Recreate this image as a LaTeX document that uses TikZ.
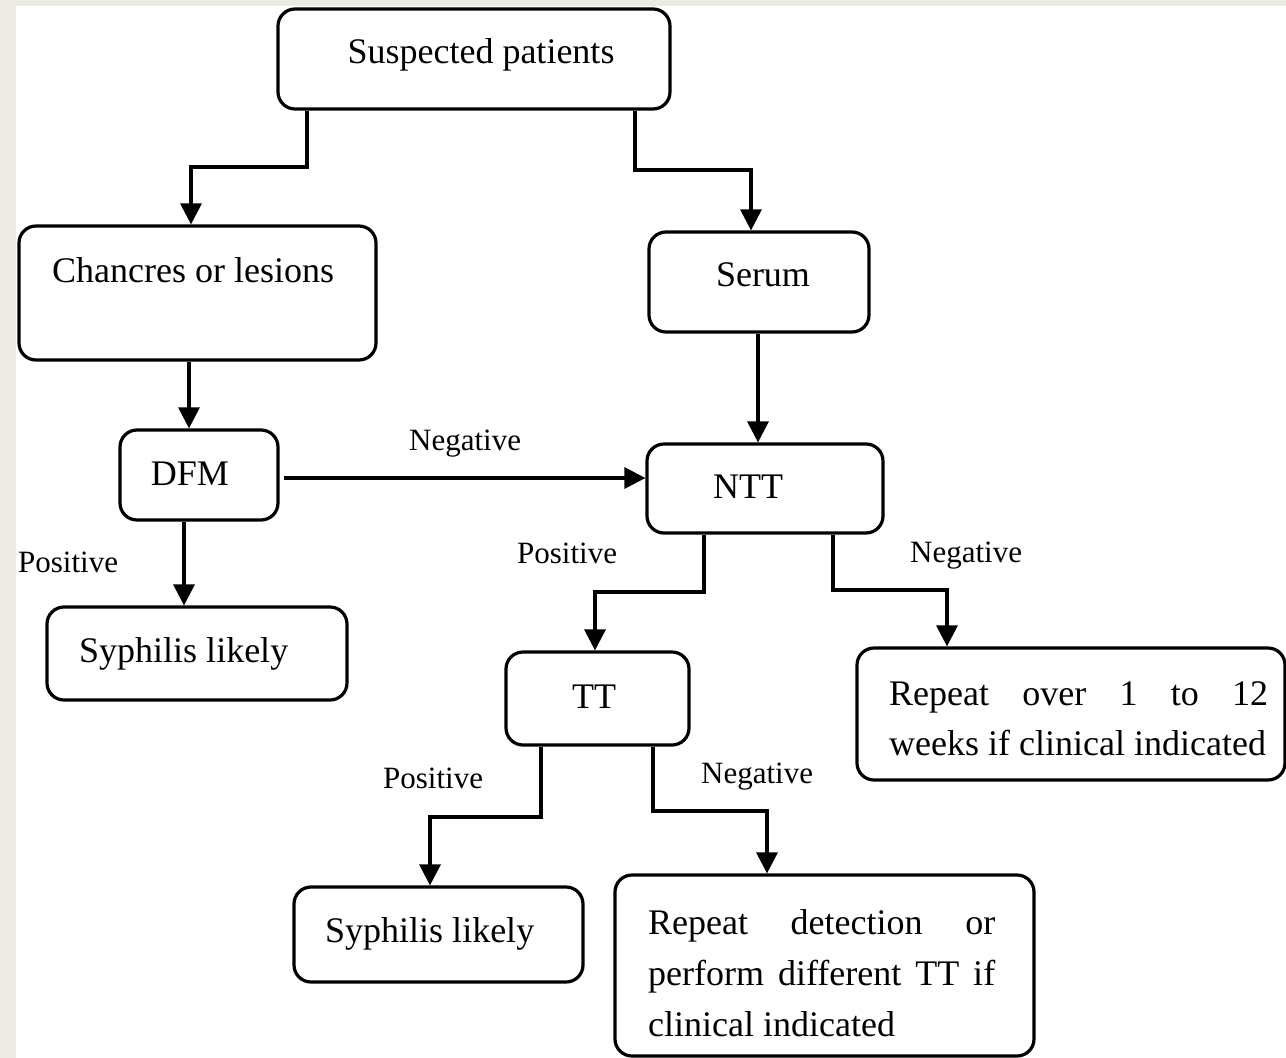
\documentclass[tikz,border=0pt]{standalone}
\usepackage{fontspec}
\setmainfont{Liberation Serif}
\usetikzlibrary{arrows.meta}
\definecolor{bgray}{RGB}{237,234,228}
\begin{document}
\begin{tikzpicture}[x=1pt,y=-1pt,
  box/.style={draw, line width=3.2pt, rounded corners=17pt, inner sep=0pt},
  btxt/.style={font=\fontsize{36}{50}\selectfont, inner sep=0pt},
  lbl/.style={font=\fontsize{31}{37}\selectfont, inner sep=0pt},
  arr/.style={line width=3.2pt, -{Triangle[width=21pt,length=21pt]}}]
\useasboundingbox (0,0) rectangle (1286,1058);
\fill[bgray] (0,0) rectangle (1286,1058);
\fill[white] (16,6) rectangle (1286,1058);

% boxes
\node[box, minimum width=392pt, minimum height=100pt] (sus) at (474,59) {};
\node[box, minimum width=357pt, minimum height=134pt] (chan) at (197.5,293) {};
\node[box, minimum width=220pt, minimum height=100pt] (serum) at (759,282) {};
\node[box, minimum width=158pt, minimum height=90pt] (dfm) at (199,475) {};
\node[box, minimum width=236pt, minimum height=89pt] (ntt) at (765,488.5) {};
\node[box, minimum width=300pt, minimum height=93pt] (syph1) at (197,653.5) {};
\node[box, minimum width=183pt, minimum height=93pt] (tt) at (597.5,698.5) {};
\node[box, minimum width=428pt, minimum height=132pt] (rep1) at (1071,714) {};
\node[box, minimum width=289pt, minimum height=95pt] (syph2) at (438.5,934.5) {};
\node[box, minimum width=419pt, minimum height=181pt] (rep2) at (824.5,965.5) {};

% box texts
\node[btxt, anchor=base] (tsus) at (481,63) {Suspected patients};
\node[btxt, anchor=base west] (tchan) at (52,282) {Chancres or lesions};
\node[btxt, anchor=base] (tserum) at (763,286) {Serum};
\node[btxt, anchor=base] (tdfm) at (190,485) {DFM};
\node[btxt, anchor=base] (tntt) at (748,498) {NTT};
\node[btxt, anchor=base west] (tsyph1) at (79,662) {Syphilis likely};
\node[btxt, anchor=base] (ttt) at (594,708) {TT};
\node[btxt, anchor=base west] (tsyph2) at (325,942) {Syphilis likely};
\node[btxt, anchor=north west, align=left] (trep1) at (889,681)
  {\hbox to 379pt{Repeat\hfill over\hfill 1\hfill to\hfill 12}\\weeks if clinical indicated};
\node[btxt, font=\fontsize{36}{51}\selectfont, anchor=north west, align=left] (trep2) at (648,909)
  {\hbox to 347pt{Repeat\hfill detection\hfill or}\\\hbox to 347pt{perform\hfill different\hfill TT\hfill if}\\clinical indicated};

% labels
\node[lbl, anchor=base west] (lneg1) at (409,450) {Negative};
\node[lbl, anchor=base west] (lpos1) at (18,572) {Positive};
\node[lbl, anchor=base west] (lpos2) at (517,563) {Positive};
\node[lbl, anchor=base west] (lneg2) at (910,562) {Negative};
\node[lbl, anchor=base west] (lpos3) at (383,788) {Positive};
\node[lbl, anchor=base west] (lneg3) at (701,783) {Negative};

% connectors
\draw[arr] (sus.south -| 307,0) -- (307,167) -- (191,167) -- (chan.north -| 191,0);
\draw[arr] (sus.south -| 635,0) -- (635,170) -- (751,170) -- (serum.north -| 751,0);
\draw[arr] (chan.south -| 189,0) -- (dfm.north -| 189,0);
\draw[arr] (serum.south -| 758,0) -- (ntt.north -| 758,0);
\draw[arr] ([xshift=4pt]dfm.east |- 0,478) -- (ntt.west |- 0,478);
\draw[arr] (dfm.south -| 184,0) -- (syph1.north -| 184,0);
\draw[arr] (ntt.south -| 704,0) -- (704,592) -- (595,592) -- (tt.north -| 595,0);
\draw[arr] (ntt.south -| 833,0) -- (833,590) -- (947,590) -- (rep1.north -| 947,0);
\draw[arr] (tt.south -| 541,0) -- (541,817) -- (430,817) -- (syph2.north -| 430,0);
\draw[arr] (tt.south -| 653,0) -- (653,811) -- (767,811) -- (rep2.north -| 767,0);
\end{tikzpicture}
\end{document}
